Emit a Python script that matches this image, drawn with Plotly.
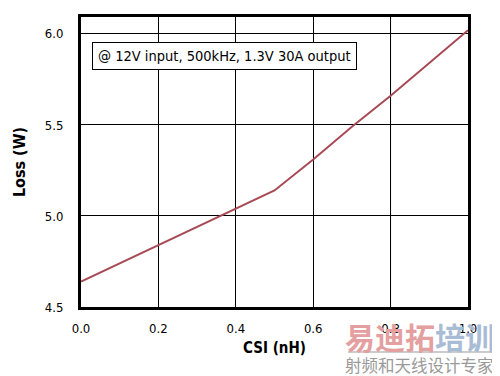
import plotly.graph_objects as go

csi_nh = [0.0, 0.1, 0.2, 0.3, 0.4, 0.5, 0.6, 0.7, 0.8, 0.9, 1.0]
loss_w = [4.64, 4.74, 4.84, 4.94, 5.04, 5.14, 5.31, 5.49, 5.66, 5.84, 6.02]
x_ticks = [0.0, 0.2, 0.4, 0.6, 0.8, 1.0]
y_ticks = [4.5, 5.0, 5.5, 6.0]
note = "@ 12V input, 500kHz, 1.3V 30A output"

FONT = "DejaVu Sans Condensed, Liberation Sans Narrow, sans-serif"

fig = go.Figure()
fig.add_trace(go.Scatter(x=csi_nh, y=loss_w, mode="lines",
                         line=dict(color="#a84a55", width=2), showlegend=False))

fig.update_xaxes(range=[0, 1.0], tickvals=x_ticks, ticktext=[f"{v:.1f}" for v in x_ticks],
                 showgrid=True, gridcolor="black", gridwidth=1,
                 showline=True, linecolor="black", linewidth=3, mirror=True,
                 ticks="", zeroline=False, automargin=False, ticklabelstandoff=7,
                 tickfont=dict(family=FONT, size=13, color="black"),
                 title=dict(text="<b>CSI (nH)</b>", font=dict(family=FONT, size=15, color="black"), standoff=8))
fig.update_yaxes(range=[4.5, 6.093], tickvals=y_ticks, ticktext=[f"{v:.1f}" for v in y_ticks],
                 showgrid=True, gridcolor="black", gridwidth=1,
                 showline=True, linecolor="black", linewidth=3, mirror=True,
                 ticks="", zeroline=False, automargin=False, ticklabelstandoff=12,
                 tickfont=dict(family=FONT, size=13, color="black"),
                 title=dict(text="<b>Loss (W)</b>", font=dict(family=FONT, size=16, color="black"), standoff=16))

# lighter gridline at 0.8
fig.add_shape(type="line", xref="x", yref="paper", x0=x_ticks[4], x1=x_ticks[4], y0=0, y1=1,
              line=dict(color="#909090", width=1), layer="below")

fig.add_annotation(x=0.028, y=0.864, xref="paper", yref="paper", xanchor="left", yanchor="middle",
                   text=note, showarrow=False, bgcolor="white", bordercolor="black", borderwidth=1,
                   borderpad=5, font=dict(family=FONT, size=14.5, color="black"))

# watermark
fig.add_annotation(x=0.676, y=-0.017, xref="paper", yref="paper", xanchor="left", yanchor="top",
                   text="<b><span style='color:#e4a0a0'>易迪拓</span><span style='color:#a9bcd6'>培训</span></b>",
                   showarrow=False, font=dict(family="Noto Sans CJK SC", size=30))
fig.add_shape(type="line", xref="paper", yref="paper", x0=0.69, x1=1.07, y0=-0.155, y1=-0.155,
              line=dict(color="#cccccc", width=2))
fig.add_annotation(x=0.676, y=-0.152, xref="paper", yref="paper", xanchor="left", yanchor="top",
                   text="射频和天线设计专家", showarrow=False,
                   font=dict(family="Noto Sans CJK SC", size=16.5, color="#9a9a9a"))

fig.update_layout(width=492, height=368, margin=dict(l=73, r=32, t=9, b=69),
                  plot_bgcolor="white", paper_bgcolor="white")
fig.write_html("out.html")
